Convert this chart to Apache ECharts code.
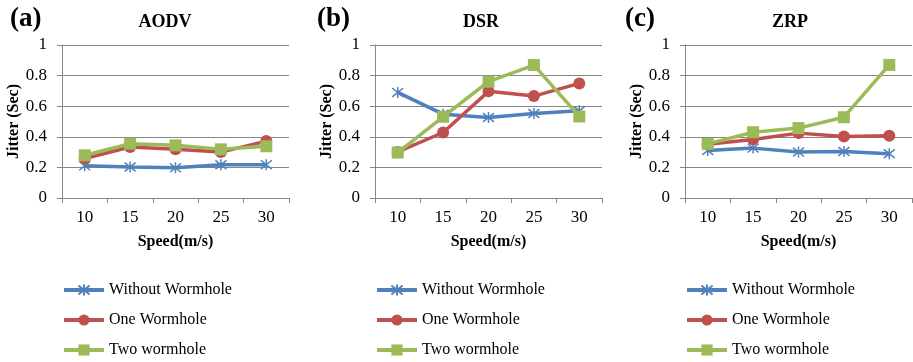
<!DOCTYPE html>
<html>
<head>
<meta charset="utf-8">
<script src="https://cdn.jsdelivr.net/npm/echarts@6/dist/echarts.min.js"></script>
<style>
html, body { margin: 0; padding: 0; background: #fff; }
#main { width: 913px; height: 362px; }
</style>
</head>
<body>
<div id="main"></div>
<script>
var speeds = ['10', '15', '20', '25', '30'];
var yTicks = [0, 0.2, 0.4, 0.6, 0.8, 1];
var protocols = ['AODV', 'DSR', 'ZRP'];
var panelLabels = ['(a)', '(b)', '(c)'];
var seriesNames = ['Without Wormhole', 'One Wormhole', 'Two wormhole'];

// jitter (sec) per speed
var aodvWithout = [0.21, 0.203, 0.197, 0.217, 0.218];
var aodvOne     = [0.258, 0.333, 0.318, 0.300, 0.372];
var aodvTwo     = [0.279, 0.355, 0.344, 0.318, 0.338];

var dsrWithout  = [0.69, 0.548, 0.526, 0.552, 0.57];
var dsrOne      = [0.301, 0.428, 0.697, 0.666, 0.749];
var dsrTwo      = [0.297, 0.531, 0.76, 0.869, 0.533];

var zrpWithout  = [0.311, 0.326, 0.30, 0.304, 0.289];
var zrpOne      = [0.352, 0.383, 0.424, 0.402, 0.407];
var zrpTwo      = [0.354, 0.43, 0.457, 0.528, 0.87];

var panelData = [
    [aodvWithout, aodvOne, aodvTwo],
    [dsrWithout, dsrOne, dsrTwo],
    [zrpWithout, zrpOne, zrpTwo]
];

var font = 'Liberation Serif, "Times New Roman", serif';
var colors = ['#4F81BD', '#C0504D', '#9BBB59'];
var symbols = ['path://M1,1L9,9M9,1L1,9M5,0L5,10', 'circle', 'rect'];
var axisGray = '#868686';

// x position of each panel's plot area
var gridLeft = [62, 375, 685];
var titleX = [160, 476, 785];
var labelX = [5, 312, 620];

var option = {
    animation: false,
    backgroundColor: '#fff',
    title: [],
    legend: [],
    grid: [],
    xAxis: [],
    yAxis: [],
    series: []
};

for (var p = 0; p < 3; p++) {
    option.title.push({
        text: protocols[p],
        left: titleX[p],
        top: 8,
        textAlign: 'center',
        textStyle: { fontFamily: font, fontSize: 18, fontWeight: 'bold', color: '#000' }
    });
    option.title.push({
        text: panelLabels[p],
        left: labelX[p],
        top: 1,
        textStyle: { fontFamily: font, fontSize: 27, fontWeight: 'bold', color: '#000' }
    });

    option.grid.push({ left: gridLeft[p], top: 45, width: 227, height: 153 });

    option.xAxis.push({
        type: 'category',
        gridIndex: p,
        data: speeds,
        boundaryGap: true,
        name: 'Speed(m/s)',
        nameLocation: 'middle',
        nameGap: 36,
        nameTextStyle: { fontFamily: font, fontSize: 16, fontWeight: 'bold', color: '#000' },
        axisLine: { lineStyle: { color: axisGray, width: 1 } },
        axisTick: { show: true, length: 5, lineStyle: { color: axisGray } },
        axisLabel: { margin: 11, fontFamily: font, fontSize: 17, color: '#000' },
        splitLine: { show: false }
    });

    option.yAxis.push({
        type: 'value',
        gridIndex: p,
        min: yTicks[0],
        max: yTicks[yTicks.length - 1],
        interval: 0.2,
        name: 'Jitter (Sec)',
        nameLocation: 'middle',
        nameGap: 40,
        nameTextStyle: { fontFamily: font, fontSize: 16, fontWeight: 'bold', color: '#000' },
        axisLine: { show: true, lineStyle: { color: axisGray, width: 1 } },
        axisTick: { show: true, length: 5, lineStyle: { color: axisGray } },
        axisLabel: { margin: 15, fontFamily: font, fontSize: 17, color: '#000' },
        splitLine: { show: true, lineStyle: { color: axisGray, width: 1 } }
    });

    option.legend.push({
        orient: 'vertical',
        left: gridLeft[p],
        top: 282,
        padding: 0,
        itemWidth: 40,
        itemHeight: 14,
        itemGap: 14,
        data: seriesNames,
        lineStyle: { width: 4 },
        textStyle: { fontFamily: font, fontSize: 16, lineHeight: 14, color: '#000' }
    });

    for (var s = 0; s < 3; s++) {
        option.series.push({
            name: seriesNames[s],
            type: 'line',
            xAxisIndex: p,
            yAxisIndex: p,
            data: panelData[p][s],
            symbol: symbols[s],
            symbolSize: s == 0 ? 11 : 12,
            lineStyle: { color: colors[s], width: 3.5 },
            itemStyle: {
                color: colors[s],
                borderColor: colors[s],
                borderWidth: s == 0 ? 1.5 : 0
            }
        });
    }
}

var myChart = echarts.init(document.getElementById('main'));
myChart.setOption(option);
</script>
</body>
</html>
